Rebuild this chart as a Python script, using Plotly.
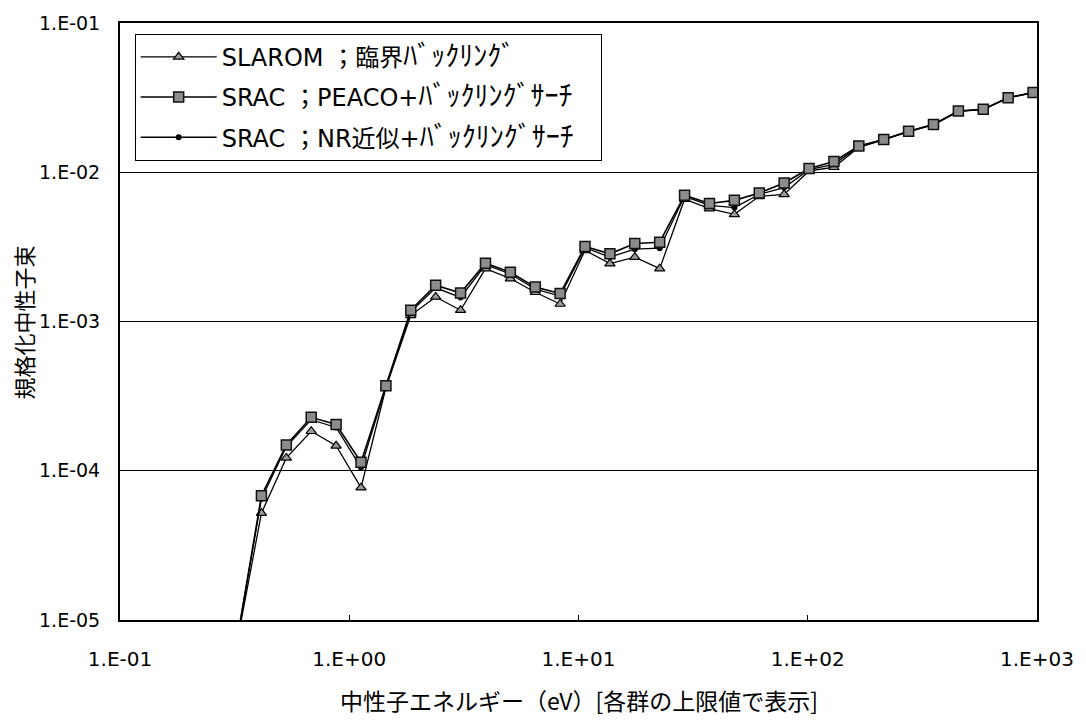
import plotly.graph_objects as go

energy = [0.32242, 0.41399, 0.53158, 0.68256, 0.87642, 1.1254, 1.4450, 1.8554,
          2.3824, 3.0590, 3.9279, 5.0435, 6.4760, 8.3153, 10.677, 13.710, 17.603,
          22.603, 29.023, 37.267, 47.851, 61.442, 78.893, 101.30, 130.07, 167.02,
          214.45, 275.36, 353.58, 454.00, 582.95, 748.52, 961.12, 1234.1]

slarom = [6.8e-6, 5.2e-5, 1.22e-4, 1.84e-4, 1.47e-4, 7.7e-5, 3.6e-4, 1.10e-3,
          1.46e-3, 1.19e-3, 2.26e-3, 1.94e-3, 1.57e-3, 1.31e-3, 3.0e-3, 2.44e-3, 2.70e-3,
          2.26e-3, 6.6e-3, 5.70e-3, 5.22e-3, 6.9e-3, 7.1e-3, 1.02e-2, 1.08e-2, 1.47e-2,
          1.65e-2, 1.87e-2, 2.08e-2, 2.56e-2, 2.63e-2, 3.15e-2, 3.41e-2, 3.64e-2]

peaco = [7.0e-6, 6.8e-5, 1.49e-4, 2.28e-4, 2.04e-4, 1.14e-4, 3.71e-4, 1.19e-3,
         1.75e-3, 1.55e-3, 2.46e-3, 2.14e-3, 1.70e-3, 1.54e-3, 3.18e-3, 2.84e-3, 3.33e-3,
         3.40e-3, 7.02e-3, 6.17e-3, 6.48e-3, 7.26e-3, 8.47e-3, 1.06e-2, 1.18e-2, 1.50e-2,
         1.66e-2, 1.88e-2, 2.09e-2, 2.57e-2, 2.64e-2, 3.16e-2, 3.42e-2, 3.65e-2]

nr = [7.0e-6, 6.5e-5, 1.45e-4, 2.20e-4, 1.95e-4, 1.05e-4, 3.65e-4, 1.16e-3,
      1.68e-3, 1.45e-3, 2.40e-3, 2.08e-3, 1.65e-3, 1.48e-3, 3.12e-3, 2.70e-3, 3.05e-3,
      3.10e-3, 6.9e-3, 6.0e-3, 5.8e-3, 7.1e-3, 7.9e-3, 1.04e-2, 1.13e-2, 1.49e-2,
      1.66e-2, 1.88e-2, 2.09e-2, 2.57e-2, 2.64e-2, 3.16e-2, 3.42e-2, 3.65e-2]

x_tickvals = [0.1, 1, 10, 100, 1000]
x_ticktext = ["1.E-01", "1.E+00", "1.E+01", "1.E+02", "1.E+03"]
y_tickvals = [1e-5, 1e-4, 1e-3, 1e-2, 1e-1]
y_ticktext = ["1.E-05", "1.E-04", "1.E-03", "1.E-02", "1.E-01"]

KS = '<span style="font-size:28px">'
names = [
    "SLAROM ；臨界" + KS + "ﾊﾞｯｸﾘﾝｸﾞ</span>",
    "SRAC ；PEACO+" + KS + "ﾊﾞｯｸﾘﾝｸﾞｻｰﾁ</span>&nbsp;&nbsp;&nbsp;",
    "SRAC ；NR近似+" + KS + "ﾊﾞｯｸﾘﾝｸﾞｻｰﾁ</span>",
]

fig = go.Figure()
fig.add_trace(go.Scatter(
    x=energy, y=slarom, name=names[0], mode="lines+markers", legendrank=1, legendgroup="a",
    line=dict(color="black", width=1.3),
    marker=dict(symbol="triangle-up", size=9, color="#9a9a9a", line=dict(color="black", width=1.2))))
fig.add_trace(go.Scatter(
    x=energy, y=nr, name=names[2], mode="lines+markers", legendrank=3, legendgroup="c",
    line=dict(color="black", width=1.3),
    marker=dict(symbol="circle", size=6, color="black")))
fig.add_trace(go.Scatter(
    x=energy, y=peaco, name=names[1], mode="lines+markers", legendrank=2, legendgroup="b",
    line=dict(color="black", width=1.6),
    marker=dict(symbol="square", size=10, color="#8c8c8c", line=dict(color="#111111", width=1.5))))

fig.update_layout(
    width=1086, height=722,
    margin=dict(l=120, r=43, t=22, b=102),
    paper_bgcolor="white", plot_bgcolor="white",
    font=dict(family="DejaVu Sans", color="black"),
    showlegend=True,
    legend=dict(
        x=0.016, y=0.982, xanchor="left", yanchor="top",
        bgcolor="white", bordercolor="black", borderwidth=1,
        font=dict(family="DejaVu Sans, Noto Sans CJK JP", size=24, color="black"),
        traceorder="grouped", tracegroupgap=6,
        itemwidth=76,
    ),
    xaxis=dict(
        type="log", range=[-1, 3], tickvals=x_tickvals, ticktext=x_ticktext,
        showgrid=False, zeroline=False, showline=True, mirror=True,
        linecolor="black", linewidth=1.5, ticks="inside", ticklen=5, tickcolor="black",
        tickfont=dict(family="DejaVu Sans", size=20), ticklabelstandoff=20,
    ),
    yaxis=dict(
        type="log", range=[-5, -1], tickvals=y_tickvals, ticktext=y_ticktext,
        showgrid=True, gridcolor="black", gridwidth=1, zeroline=False,
        showline=True, mirror=True, linecolor="black", linewidth=2,
        ticks="inside", ticklen=5, tickcolor="black",
        tickfont=dict(family="DejaVu Sans", size=19), ticklabelstandoff=14,
    ),
    annotations=[
        dict(text="中性子エネルギー（eV）[各群の上限値で表示]", xref="paper", yref="paper",
             x=0.5, y=-0.134, xanchor="center", yanchor="middle", showarrow=False,
             font=dict(family="Noto Sans CJK JP", size=23, color="black")),
        dict(text="規格化中性子束", xref="paper", yref="paper",
             x=-0.106, y=0.498, xanchor="center", yanchor="middle", showarrow=False,
             textangle=-90, font=dict(family="Noto Sans CJK JP", size=22, color="black")),
    ],
)

fig.write_html("out.html")
